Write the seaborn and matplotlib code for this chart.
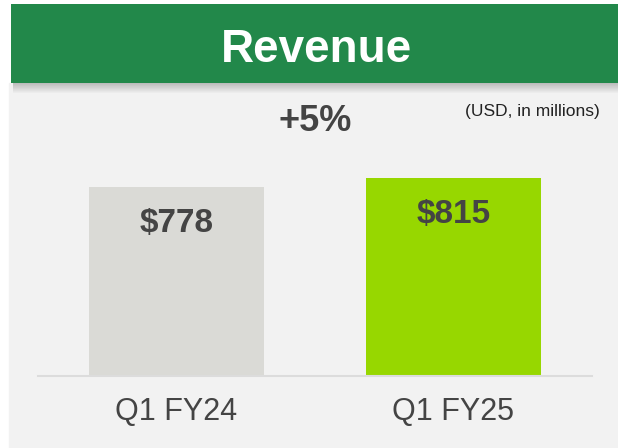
import pandas as pd
import seaborn as sns
import matplotlib.pyplot as plt
from matplotlib.patches import Rectangle

# données
quarters = ["Q1 FY24", "Q1 FY25"]
revenue = [778, 815]
bar_labels = ["$778", "$815"]
bar_colors = ["#dadad6", "#97d700"]
title = "Revenue"
growth = "+5%"
unit = "(USD, in millions)"

W, H = 618, 448
sns.set_theme(style="white")
plt.rcParams["font.family"] = ["Liberation Sans", "DejaVu Sans"]

fig = plt.figure(figsize=(W / 100, H / 100), dpi=100, facecolor="white")

def fx(px):
    return px / W

def fy(py):
    return 1 - py / H

# fond gris + bandeau vert avec ombre
fig.patches.append(Rectangle((fx(9), 0), 1, fy(83), transform=fig.transFigure,
                             color="#f2f2f2", zorder=0))
for i in range(10):
    fig.patches.append(Rectangle((fx(13), fy(84 + i)), 1, 1 / H, transform=fig.transFigure,
                                 color="#000000", alpha=0.22 * (1 - i / 10), lw=0, zorder=1))
fig.patches.append(Rectangle((fx(11), fy(83)), 1, fy(4) - fy(83), transform=fig.transFigure,
                             color="#22884a", lw=0, zorder=2))

fig.text(fx(316), fy(62), title, color="white", fontsize=33, fontweight="bold",
         ha="center", va="baseline", zorder=3)
fig.text(fx(315), fy(131), growth, color="#444444", fontsize=26, fontweight="bold",
         ha="center", va="baseline")
fig.text(fx(600), fy(116), unit, color="#222222", fontsize=12.5,
         ha="right", va="baseline")

# graphique
ax = fig.add_axes([fx(38), fy(376), fx(592) - fx(38), (376 - 130) / H])
ax.set_zorder(5)
ax.set_facecolor("none")
df = pd.DataFrame({"quarter": quarters, "revenue": revenue})
sns.barplot(data=df, x="quarter", y="revenue", hue="quarter", palette=bar_colors,
            legend=False, width=0.632, saturation=1, linewidth=0, ax=ax)
ax.set_xlim(-0.5, 1.5)
ax.set_ylim(0, 246 * 4.12)

for i, (v, lab) in enumerate(zip(revenue, bar_labels)):
    ax.annotate(lab, (i, v), xytext=(0, -32), textcoords="offset points",
                ha="center", va="baseline", fontsize=24, fontweight="bold", color="#444444")

for s in ["top", "left", "right"]:
    ax.spines[s].set_visible(False)
ax.spines["bottom"].set_color("#dcdcdc")
ax.spines["bottom"].set_linewidth(1.5)
ax.set_yticks([])
ax.tick_params(axis="x", length=0, pad=15, labelsize=22, labelcolor="#444444")
ax.set_xlabel("")
ax.set_ylabel("")

fig.savefig("out.png", dpi=100, facecolor="white")
